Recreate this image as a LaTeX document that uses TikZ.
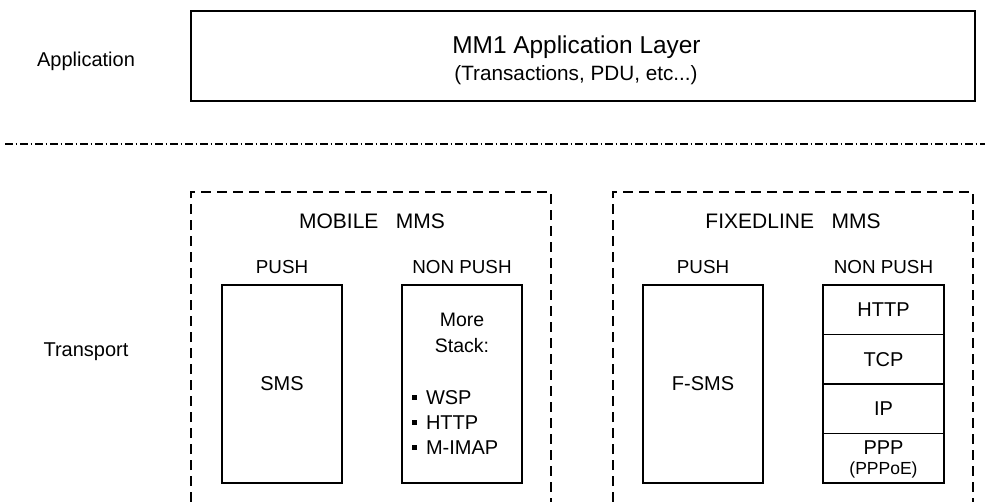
\documentclass[tikz,border=0pt]{standalone}
\usepackage{fontspec}
\setmainfont{Liberation Sans}
\begin{document}
\begin{tikzpicture}[x=1pt,y=-1pt,
  every node/.style={inner sep=0pt, outer sep=0pt},
  solidbox/.style={draw, line width=1.2pt},
  groupline/.style={draw, line width=1.1pt, dash pattern=on 10pt off 6pt},
  sepline/.style={draw, line width=1.2pt, dash pattern=on 7.5pt off 3pt on 1.5pt off 3pt},
  lbl/.style={anchor=base, font=\fontsize{20}{24}\selectfont},
  grouptitle/.style={anchor=base, font=\fontsize{21}{25}\selectfont},
  coltitle/.style={anchor=base, font=\fontsize{18.8}{22}\selectfont},
  cell/.style={anchor=base, font=\fontsize{20}{24}\selectfont},
  item/.style={anchor=base west, font=\fontsize{20}{24}\selectfont},
  bulletmark/.style={fill=black, minimum width=5pt, minimum height=5pt}
]
\useasboundingbox (0,0) rectangle (990,501);

% layer names
\node[lbl] (applbl) at (86,66) {Application};
\node[lbl] (translbl) at (86,356) {Transport};

% application layer
\node[solidbox, minimum width=784pt, minimum height=90pt] (app) at (583,56) {};
\node[anchor=base, font=\fontsize{24.4}{28}\selectfont] (apptitle) at (576.5,53.5) {MM1 Application Layer};
\node[anchor=base, font=\fontsize{20.7}{24}\selectfont] (appsub) at (576,80) {(Transactions, PDU, etc...)};

% separator between the layers
\coordinate (sepL) at (5,144);
\coordinate (sepR) at (985,144);
\draw[sepline] (sepL) -- (sepR);

% mobile MMS group
\coordinate (mobBL) at (191,502);
\coordinate (mobTR) at (551,192);
\coordinate (mobBR) at (551,502);
\draw[groupline] (mobBL) |- (mobTR) -- (mobBR);
\node[grouptitle] (mobtitle) at (372,228) {MOBILE\ \ \ MMS};
\node[coltitle] (mobpush) at (282,273.3) {PUSH};
\node[coltitle] (mobnonpush) at (462,273.3) {NON PUSH};

\node[solidbox, minimum width=120pt, minimum height=198pt] (smsbox) at (282,384) {};
\node[cell] (sms) at (282,390.7) {SMS};

\node[solidbox, minimum width=120pt, minimum height=198pt] (morebox) at (462,384) {};
\node[anchor=base, font=\fontsize{19.5}{23}\selectfont] (more) at (462,326.7) {More};
\node[anchor=base, font=\fontsize{19.5}{23}\selectfont] (stack) at (462,352.3) {Stack:};
\node[bulletmark] (b1) at (414.5,397.5) {};
\node[bulletmark] (b2) at (414.5,422.8) {};
\node[bulletmark] (b3) at (414.5,447.5) {};
\node[item] (wsp) at (426,404) {WSP};
\node[item] (http1) at (426,429.3) {HTTP};
\node[item] (mimap) at (426,454) {M-IMAP};

% fixedline MMS group
\coordinate (fixBL) at (613,502);
\coordinate (fixTR) at (973,192);
\coordinate (fixBR) at (973,502);
\draw[groupline] (fixBL) |- (fixTR) -- (fixBR);
\node[grouptitle] (fixtitle) at (793,228) {FIXEDLINE\ \ \ MMS};
\node[coltitle] (fixpush) at (703,273.3) {PUSH};
\node[coltitle] (fixnonpush) at (883.5,273.3) {NON PUSH};

\node[solidbox, minimum width=120pt, minimum height=198pt] (fsmsbox) at (703,384) {};
\node[cell] (fsms) at (703,390.7) {F-SMS};

% protocol stack
\node[solidbox, minimum width=121pt, minimum height=49.5pt] (httpcell) at (883.5,309.75) {};
\node[solidbox, minimum width=121pt, minimum height=49.5pt] (tcpcell) at (883.5,359.25) {};
\node[solidbox, minimum width=121pt, minimum height=49.5pt] (ipcell) at (883.5,408.75) {};
\node[solidbox, minimum width=121pt, minimum height=49.5pt] (pppcell) at (883.5,458.25) {};
\node[cell] (http2) at (883.5,316.7) {HTTP};
\node[cell] (tcp) at (883.5,366) {TCP};
\node[cell] (ip) at (883.5,415) {IP};
\node[cell] (ppp) at (883.5,454) {PPP};
\node[anchor=base, font=\fontsize{17.5}{20}\selectfont] (pppoe) at (883.5,474.5) {(PPPoE)};
\end{tikzpicture}
\end{document}
